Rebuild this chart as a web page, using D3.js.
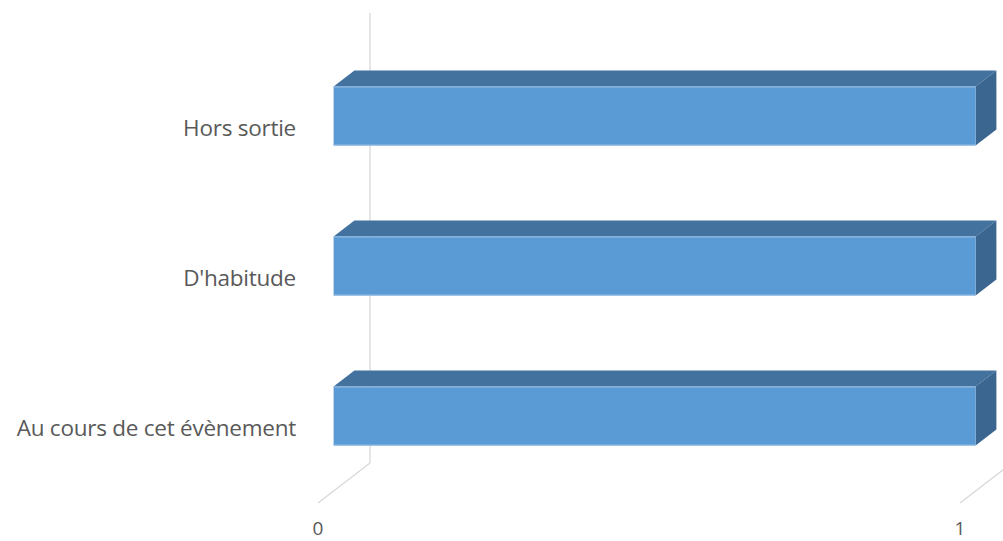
<!DOCTYPE html>
<html>
<head>
<meta charset="utf-8">
<script src="https://cdn.jsdelivr.net/npm/d3@7"></script>
<style>
  html, body { margin: 0; padding: 0; background: #ffffff; }
  svg { display: block; }
  text { font-family: "Open Sans", "Noto Sans", sans-serif; fill: #595959; }
</style>
</head>
<body>
<svg id="chart" width="1003" height="541"></svg>
<script>
// Categories listed bottom to top
const categories = ["Au cours de cet évènement", "D'habitude", "Hors sortie"];
const values = [1, 1, 1];
const tickValues = [0, 1];
const tickLabels = ["0", "1"];

const W = 1003, H = 541;
const svg = d3.select("#chart");

// Front plane of the floor / category space
const originX = 318, floorY = 503, topY = 53;
const plotW = 642;
// Depth vector of the 3D box (front -> back)
const depthX = 52, depthY = -40;
const barD0 = 0.3, barD1 = 0.7;

const x = d3.scaleLinear().domain([0, 1]).range([originX, originX + plotW]);
const y = d3.scaleBand().domain(categories).range([floorY, topY]).paddingInner(0.607).paddingOuter(0.3035);

// Project a point (screen-x, screen-y in front plane) to depth d
const P = (px, py, d) => [px + depthX * d, py + depthY * d];
const pts = arr => arr.map(p => p.join(",")).join(" ");

const grid = svg.append("g").attr("stroke", "#d9d9d9").attr("stroke-width", 1.3).attr("fill", "none");

// Back wall gridlines at each tick, plus floor edges
tickValues.forEach(v => {
  const b = P(x(v), floorY, 1), t = P(x(v), topY, 1);
  grid.append("line").attr("x1", b[0]).attr("y1", b[1]).attr("x2", t[0]).attr("y2", t[1]);
  const f = P(x(v), floorY, 0);
  grid.append("line").attr("x1", f[0]).attr("y1", f[1]).attr("x2", b[0]).attr("y2", b[1]);
});

// Bars as 3D boxes
const bars = svg.append("g");
categories.forEach((c, i) => {
  const x0 = x(0), x1 = x(values[i]);
  const yTop = y(c), yBot = y(c) + y.bandwidth();
  const g = bars.append("g");
  // top face
  g.append("polygon")
    .attr("points", pts([P(x0, yTop, barD0), P(x1, yTop, barD0), P(x1, yTop, barD1), P(x0, yTop, barD1)]))
    .attr("fill", "#43729f");
  // right side face
  g.append("polygon")
    .attr("points", pts([P(x1, yTop, barD0), P(x1, yTop, barD1), P(x1, yBot, barD1), P(x1, yBot, barD0)]))
    .attr("fill", "#3a6690");
  // front face
  const f0 = P(x0, yTop, barD0), f1 = P(x1, yBot, barD0);
  g.append("rect")
    .attr("x", f0[0]).attr("y", f0[1])
    .attr("width", f1[0] - f0[0]).attr("height", f1[1] - f0[1])
    .attr("fill", "#5b9bd5");
  g.append("line")
    .attr("x1", f0[0]).attr("x2", f1[0]).attr("y1", f0[1] + 0.5).attr("y2", f0[1] + 0.5)
    .attr("stroke", "#8fb9e3").attr("stroke-width", 1);
  g.append("line")
    .attr("x1", f0[0]).attr("x2", f1[0]).attr("y1", f1[1] - 0.5).attr("y2", f1[1] - 0.5)
    .attr("stroke", "#8fb9e3").attr("stroke-width", 1);
});

// Category labels
svg.append("g").selectAll("text").data(categories).join("text")
  .attr("x", 296)
  .attr("y", d => y(d) + y.bandwidth() / 2 + 7.5)
  .attr("text-anchor", "end")
  .attr("font-size", 22.5)
  .attr("letter-spacing", -0.25)
  .text(d => d);

// Value tick labels
svg.append("g").selectAll("text").data(tickValues).join("text")
  .attr("x", d => x(d))
  .attr("y", 535)
  .attr("text-anchor", "middle")
  .attr("font-size", 19)
  .text((d, i) => tickLabels[i]);
</script>
</body>
</html>
